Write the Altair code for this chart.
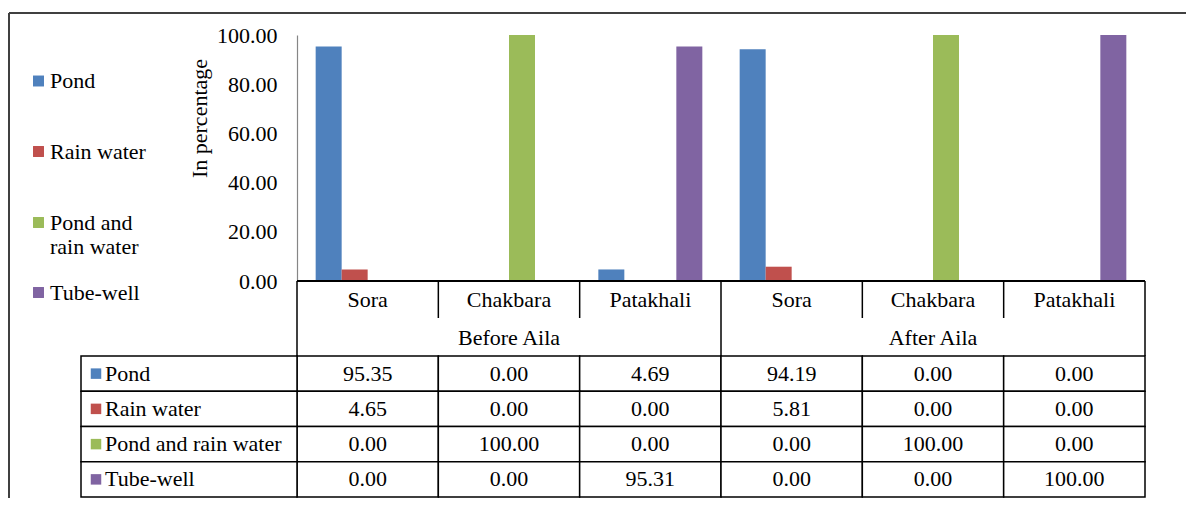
import altair as alt
import pandas as pd

# ---------------- data ----------------
periods = ["Before Aila", "After Aila"]
locations = ["Sora", "Chakbara", "Patakhali"]
series = ["Pond", "Rain water", "Pond and rain water", "Tube-well"]
pond = [95.35, 0.00, 4.69, 94.19, 0.00, 0.00]
rain_water = [4.65, 0.00, 0.00, 5.81, 0.00, 0.00]
pond_and_rain = [0.00, 100.00, 0.00, 0.00, 100.00, 0.00]
tube_well = [0.00, 0.00, 95.31, 0.00, 0.00, 100.00]
y_ticks = [0, 20, 40, 60, 80, 100]
legend_labels = ["Pond", "Rain water", "Pond and\nrain water", "Tube-well"]
colors = ["#4F81BD", "#C0504D", "#9BBB59", "#8064A2"]

cats = [f"{p}|{l}" for p in periods for l in locations]
all_values = [pond, rain_water, pond_and_rain, tube_well]
long_rows = []
for s, vals in zip(series, all_values):
    for c, v in zip(cats, vals):
        long_rows.append({"cat": c, "series": s, "value": v})
df = pd.DataFrame(long_rows)

# ---------------- layout ----------------
FONT = "Liberation Serif"
FS = 22
W, H = 848, 246
HDR1 = H + 37
HDR2 = H + 75
TBOT = 462
LBL_L = -216
LINE = "black"
LW = 1.5

xscale = alt.Scale(type="band", domain=cats, paddingInner=0, paddingOuter=0)
row_scale = alt.Scale(type="band", domain=series, range=[HDR2, TBOT],
                      paddingInner=0, paddingOuter=0)
color_scale = alt.Scale(domain=series, range=colors)
one = pd.DataFrame({"k": [0]})

bars = alt.Chart(df).mark_bar().encode(
    x=alt.X("cat:N", scale=xscale, axis=None),
    xOffset=alt.XOffset("series:N", scale=alt.Scale(domain=series, paddingInner=0, paddingOuter=0.718)),
    y=alt.Y("value:Q", scale=alt.Scale(domain=[0, 100]),
            axis=alt.Axis(values=y_ticks, format=".2f", title=None, grid=False, ticks=False,
                          domainColor="#868686", domainWidth=1.2, labelFont=FONT,
                          labelFontSize=FS, labelColor="black", labelPadding=20)),
    color=alt.Color("series:N", scale=color_scale, legend=None),
)

xaxis_line = alt.Chart(one).mark_rule(color=LINE, strokeWidth=2).encode(
    x=alt.value(0), x2=alt.value(W), y=alt.value(H))

loc_vlines = alt.Chart(pd.DataFrame({"cat": cats})).mark_rule(color=LINE, strokeWidth=LW).encode(
    x=alt.X("cat:N", scale=xscale, bandPosition=0, axis=None),
    y=alt.value(H), y2=alt.value(HDR1))

grp_vlines = alt.Chart(pd.DataFrame({"cat": [cats[0], cats[3]]})).mark_rule(color=LINE, strokeWidth=LW).encode(
    x=alt.X("cat:N", scale=xscale, bandPosition=0, axis=None),
    y=alt.value(HDR1), y2=alt.value(HDR2))

right_vline = alt.Chart(one).mark_rule(color=LINE, strokeWidth=LW).encode(
    x=alt.value(W), y=alt.value(H), y2=alt.value(HDR2))

cells = alt.Chart(df).mark_rect(fill="white", stroke=LINE, strokeWidth=LW).encode(
    x=alt.X("cat:N", scale=xscale, axis=None),
    y=alt.Y("series:N", scale=row_scale, axis=None))

label_cells = alt.Chart(pd.DataFrame({"series": series})).mark_rect(
    fill="white", stroke=LINE, strokeWidth=LW).encode(
    x=alt.value(LBL_L), x2=alt.value(0),
    y=alt.Y("series:N", scale=row_scale, axis=None))

label_squares = alt.Chart(pd.DataFrame({"series": series})).mark_point(
    shape="square", filled=True, size=110, opacity=1).encode(
    x=alt.value(-201),
    y=alt.Y("series:N", scale=row_scale, axis=None),
    color=alt.Color("series:N", scale=color_scale, legend=None))

label_text = alt.Chart(pd.DataFrame({"series": series})).mark_text(
    align="left", baseline="middle", font=FONT, fontSize=FS, color="black").encode(
    x=alt.value(-192),
    y=alt.Y("series:N", scale=row_scale, axis=None),
    text="series:N")

value_text = alt.Chart(df).mark_text(
    align="center", baseline="middle", font=FONT, fontSize=FS, color="black").encode(
    x=alt.X("cat:N", scale=xscale, axis=None),
    y=alt.Y("series:N", scale=row_scale, axis=None),
    text=alt.Text("value:Q", format=".2f"))

loc_df = pd.DataFrame({"cat": cats, "loc": [l for p in periods for l in locations]})
loc_text = alt.Chart(loc_df).mark_text(
    align="center", baseline="middle", font=FONT, fontSize=FS, color="black").encode(
    x=alt.X("cat:N", scale=xscale, axis=None),
    y=alt.value((H + HDR1) / 2),
    text="loc:N")

grp_df = pd.DataFrame({"cat": [f"{p}|{locations[1]}" for p in periods], "period": periods})
grp_text = alt.Chart(grp_df).mark_text(
    align="center", baseline="middle", font=FONT, fontSize=FS, color="black").encode(
    x=alt.X("cat:N", scale=xscale, axis=None),
    y=alt.value((HDR1 + HDR2) / 2 + 1),
    text="period:N")

ytitle = alt.Chart(one).mark_text(
    angle=270, align="center", baseline="middle", font=FONT, fontSize=FS, color="black").encode(
    x=alt.value(-97), y=alt.value(83.5), text=alt.value("In percentage"))

# legend on the left
leg_sym_y = [46, 116.5, 187.5, 257.5]
leg_df = pd.DataFrame({"series": series, "label": legend_labels,
                       "sy": leg_sym_y, "ty": [v - 10 for v in leg_sym_y]})
leg_sq = alt.Chart(leg_df).mark_point(shape="square", filled=True, size=120, opacity=1).encode(
    x=alt.value(-258.5),
    y=alt.Y("sy:Q", scale=None),
    color=alt.Color("series:N", scale=color_scale, legend=None))
leg_txt = alt.Chart(leg_df).mark_text(
    align="left", baseline="top", lineBreak="\n", lineHeight=24.5,
    font=FONT, fontSize=FS, color="black").encode(
    x=alt.value(-247),
    y=alt.Y("ty:Q", scale=None),
    text="label:N")

frame_top = alt.Chart(one).mark_rule(color="#404040", strokeWidth=2).encode(
    x=alt.value(-288), x2=alt.value(889), y=alt.value(-22))
frame_left = alt.Chart(one).mark_rule(color="#404040", strokeWidth=2).encode(
    x=alt.value(-288), y=alt.value(-22), y2=alt.value(463))

chart = alt.layer(
    frame_top, frame_left,
    cells, label_cells, label_squares, label_text, value_text,
    bars, xaxis_line, loc_vlines, grp_vlines, right_vline,
    loc_text, grp_text, ytitle, leg_sq, leg_txt,
).resolve_scale(y="independent").properties(
    width=W, height=H,
    autosize=alt.AutoSizeParams(type="none"),
    padding={"left": 289, "top": 27, "right": 41, "bottom": 217},
).configure_view(stroke=None)

chart.save("out.html", embed_options={"renderer": "svg", "actions": False})
